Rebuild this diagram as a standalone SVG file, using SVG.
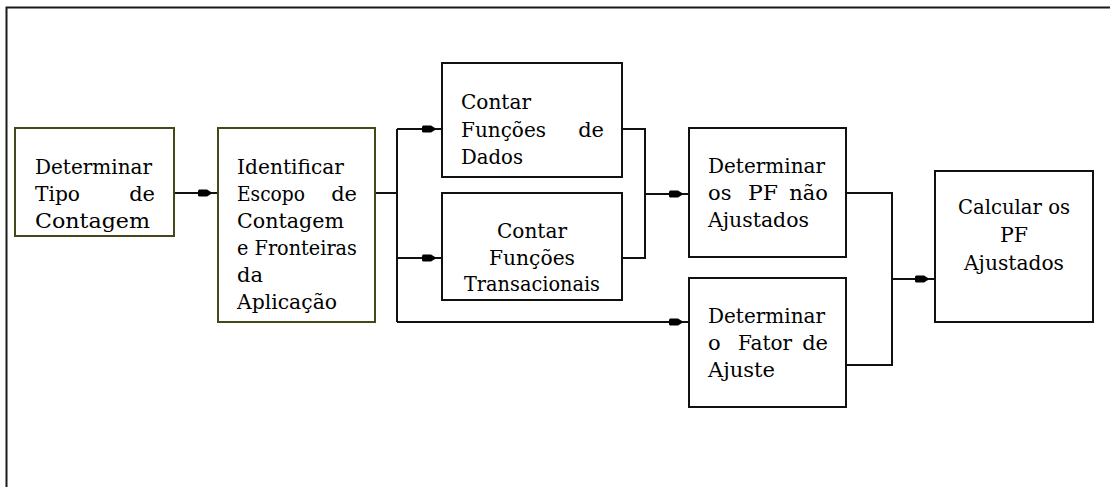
<svg xmlns="http://www.w3.org/2000/svg" width="1110" height="487" viewBox="0 0 1110 487">
  <defs>
    <style>
      .frame { fill: none; stroke: #1a1a1a; stroke-width: 2; }
      .box { fill: #ffffff; stroke: #111111; stroke-width: 2; }
      .box.olive { stroke: #47471c; }
      .wire { fill: none; stroke: #111111; stroke-width: 2; }
      .label { font-family: 'DejaVu Serif', 'Liberation Serif', serif; font-size: 21px; fill: #000000; }
      .mid { text-anchor: middle; }
      .end { text-anchor: end; }
    </style>
    <!-- small block arrowhead, drawn a few pixels before the line end -->
    <marker id="head" markerUnits="userSpaceOnUse" markerWidth="24" markerHeight="10" viewBox="0 -5 24 10" refX="20" refY="0" orient="auto">
      <path d="M0,-2.5 L1,-3.5 L9,-3.5 L13,-1 L13,1 L9,3.5 L1,3.5 L0,2.5 Z" fill="#000000"/>
    </marker>
  </defs>

  <rect width="1110" height="487" fill="#ffffff"/>
  <path class="frame" d="M6.5,487 V7.5 H1110"/>

  <g id="connectors">
    <path class="wire" d="M174,193 H218" marker-end="url(#head)"/>
    <path class="wire" d="M375,193 H397"/>
    <path class="wire" d="M397,129 V322"/>
    <path class="wire" d="M397,129 H442" marker-end="url(#head)"/>
    <path class="wire" d="M397,258 H442" marker-end="url(#head)"/>
    <path class="wire" d="M397,322 H689" marker-end="url(#head)"/>
    <path class="wire" d="M622,129 H645 V258 H622"/>
    <path class="wire" d="M645,194 H689" marker-end="url(#head)"/>
    <path class="wire" d="M846,193 H892 V365 H846"/>
    <path class="wire" d="M892,279 H935" marker-end="url(#head)"/>
  </g>

  <g id="tipo-contagem" class="label">
    <rect class="box olive" x="15" y="128" width="159" height="108"/>
    <text x="35" y="174" textLength="117" lengthAdjust="spacingAndGlyphs">Determinar</text>
    <text x="35" y="201" textLength="45" lengthAdjust="spacingAndGlyphs">Tipo</text>
    <text class="end" x="155" y="201">de</text>
    <text x="35" y="228" textLength="115" lengthAdjust="spacingAndGlyphs">Contagem</text>
  </g>

  <g id="escopo-fronteiras" class="label">
    <rect class="box olive" x="218" y="128" width="157" height="194"/>
    <text x="237" y="174" textLength="107" lengthAdjust="spacingAndGlyphs">Identificar</text>
    <text x="237" y="201" textLength="68" lengthAdjust="spacingAndGlyphs">Escopo</text>
    <text class="end" x="357" y="201">de</text>
    <text x="237" y="228" textLength="107" lengthAdjust="spacingAndGlyphs">Contagem</text>
    <text x="237" y="255" textLength="120" lengthAdjust="spacingAndGlyphs">e Fronteiras</text>
    <text x="237" y="282">da</text>
    <text x="237" y="309" textLength="100" lengthAdjust="spacingAndGlyphs">Aplicação</text>
  </g>

  <g id="funcoes-dados" class="label">
    <rect class="box" x="442" y="63" width="180" height="114"/>
    <text x="461" y="109" textLength="70" lengthAdjust="spacingAndGlyphs">Contar</text>
    <text x="461" y="137" textLength="85" lengthAdjust="spacingAndGlyphs">Funções</text>
    <text class="end" x="604" y="137">de</text>
    <text x="461" y="164" textLength="62" lengthAdjust="spacingAndGlyphs">Dados</text>
  </g>

  <g id="funcoes-transacionais" class="label">
    <rect class="box" x="442" y="193" width="180" height="107"/>
    <text class="mid" x="532" y="238" textLength="70" lengthAdjust="spacingAndGlyphs">Contar</text>
    <text class="mid" x="532" y="265" textLength="86" lengthAdjust="spacingAndGlyphs">Funções</text>
    <text class="mid" x="532" y="291" textLength="136" lengthAdjust="spacingAndGlyphs">Transacionais</text>
  </g>

  <g id="pf-nao-ajustados" class="label">
    <rect class="box" x="689" y="128" width="157" height="129"/>
    <text x="708" y="173" textLength="117" lengthAdjust="spacingAndGlyphs">Determinar</text>
    <text x="708" y="200">os</text>
    <text x="748" y="200" textLength="30" lengthAdjust="spacingAndGlyphs">PF</text>
    <text class="end" x="828" y="200">não</text>
    <text x="708" y="227" textLength="101" lengthAdjust="spacingAndGlyphs">Ajustados</text>
  </g>

  <g id="fator-ajuste" class="label">
    <rect class="box" x="689" y="278" width="157" height="129"/>
    <text x="708" y="323" textLength="117" lengthAdjust="spacingAndGlyphs">Determinar</text>
    <text x="708" y="350">o</text>
    <text x="738" y="350" textLength="54" lengthAdjust="spacingAndGlyphs">Fator</text>
    <text class="end" x="828" y="350">de</text>
    <text x="708" y="377" textLength="67" lengthAdjust="spacingAndGlyphs">Ajuste</text>
  </g>

  <g id="pf-ajustados" class="label">
    <rect class="box" x="935" y="171" width="158" height="151"/>
    <text class="mid" x="1014" y="214" textLength="112" lengthAdjust="spacingAndGlyphs">Calcular os</text>
    <text class="mid" x="1014" y="242" textLength="28" lengthAdjust="spacingAndGlyphs">PF</text>
    <text class="mid" x="1014" y="270" textLength="100" lengthAdjust="spacingAndGlyphs">Ajustados</text>
  </g>
</svg>
